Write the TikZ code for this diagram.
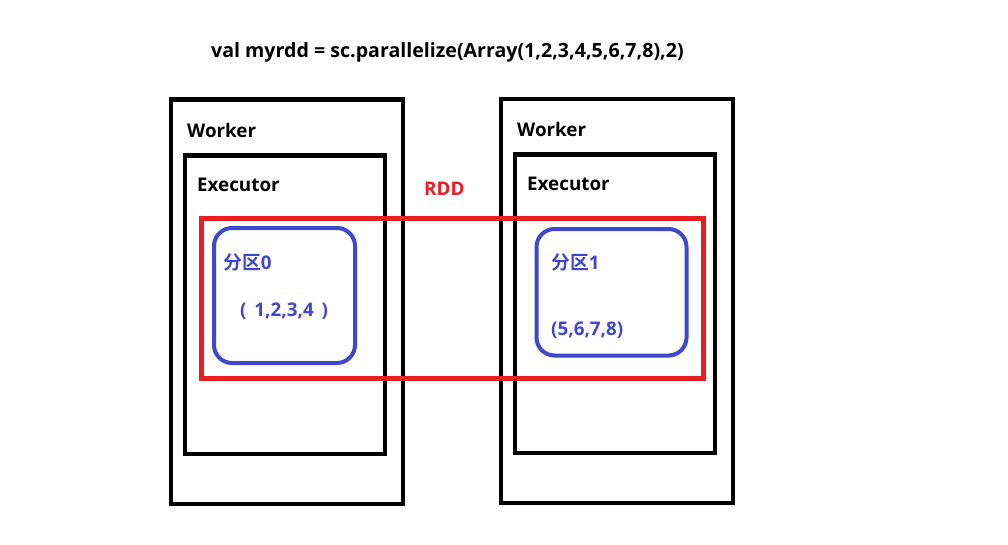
\documentclass[tikz,border=0pt]{standalone}
\usepackage{fontspec}
\setmainfont{Open Sans}[BoldFont={Open Sans Bold}]
\newfontfamily\cjkfont{Noto Sans CJK SC}[BoldFont={Noto Sans CJK SC Bold}]
\definecolor{rddred}{RGB}{237,28,36}
\definecolor{partblue}{RGB}{63,72,204}
\tikzset{
  boxblack/.style={draw=black, line width=4.7pt, inner sep=0pt},
  boxred/.style={draw=rddred, line width=4.5pt, inner sep=0pt},
  boxblue/.style={draw=partblue, line width=4pt, rounded corners=18pt, inner sep=0pt},
  lbl/.style={font=\fontsize{18.8}{22}\selectfont\bfseries, inner sep=0pt, anchor=base west},
  bluelbl/.style={lbl, text=partblue},
}
\begin{document}
\begin{tikzpicture}[x=1pt,y=-1pt]
\useasboundingbox[fill=white] (0,0) rectangle (1008,544);
% workers
\node[boxblack, minimum width=232pt, minimum height=404.5pt] (w1) at (287,301.75) {};
\node[boxblack, minimum width=232pt, minimum height=404pt] (w2) at (617,301) {};
% executors
\node[boxblack, minimum width=200pt, minimum height=298.5pt] (e1) at (285,304.75) {};
\node[boxblack, minimum width=200pt, minimum height=298.5pt] (e2) at (615,303.75) {};
% RDD
\node[boxred, minimum width=502pt, minimum height=160pt] (rdd) at (452.5,298.5) {};
% partitions
\node[boxblue, minimum width=141pt, minimum height=135pt] (p0) at (284.5,295.5) {};
\node[boxblue, minimum width=150pt, minimum height=126.5pt] (p1) at (611.5,292.25) {};
% texts
\node[lbl, font=\fontsize{19.6}{22}\selectfont\bfseries] (title) at (211,57) {val myrdd = sc.parallelize(Array(1,2,3,4,5,6,7,8),2)};
\node[lbl] (w1t) at (187,137) {Worker};
\node[lbl] (w2t) at (517,136.5) {Worker};
\node[lbl] (e1t) at (197,191) {Executor};
\node[lbl] (e2t) at (527,190) {Executor};
\node[lbl, text=rddred] (rddt) at (424,195) {RDD};
\node[bluelbl] (p0t) at (223,269.5) {{\cjkfont 分区}0};
\node[bluelbl] (p1t) at (551,269.5) {{\cjkfont 分区}1};
\node[bluelbl] (p0v) at (240,316.5) {(\hspace{3pt} 1,2,3,4\hspace{3pt} )};
\node[bluelbl] (p1v) at (551,335) {(5,6,7,8)};
\end{tikzpicture}
\end{document}
